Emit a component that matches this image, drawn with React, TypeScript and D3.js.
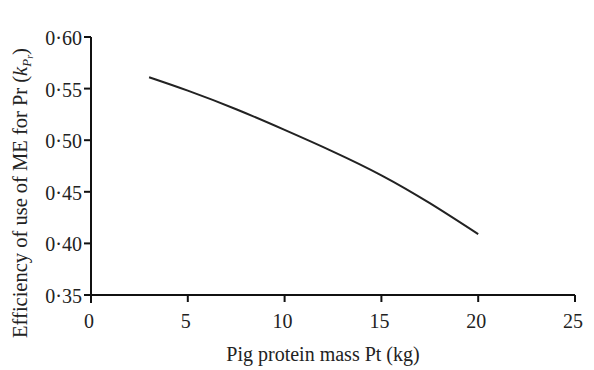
import React from "react";
import * as d3 from "d3";

const proteinMass = [3, 5, 7.5, 10, 12.5, 15, 17.5, 20];
const efficiency = [0.561, 0.548, 0.53, 0.51, 0.489, 0.466, 0.439, 0.409];
const xTicks = [0, 5, 10, 15, 20, 25];
const yTicks = [0.35, 0.4, 0.45, 0.5, 0.55, 0.6];

const W = 594;
const H = 370;
const FONT = "'Liberation Serif', 'DejaVu Serif', serif";

export default function App() {
  const x = d3.scaleLinear().domain([0, 25]).range([91, 575]);
  const y = d3.scaleLinear().domain([0.35, 0.6]).range([295, 37]);
  const pts = proteinMass.map((m, i) => [m, efficiency[i]] as [number, number]);
  const line = d3
    .line<[number, number]>()
    .x((d) => x(d[0]))
    .y((d) => y(d[1]))
    .curve(d3.curveNatural);
  const fmt = (v: number) => v.toFixed(2).replace(".", "\u00B7");
  return (
    <svg
      width={W}
      height={H}
      style={{ position: "absolute", left: 0, top: 0, background: "#fff" }}
      fontFamily={FONT}
    >
      <line x1={x(0)} x2={x(0)} y1={y(0.6)} y2={y(0.35) + 8} stroke="#111" strokeWidth={2} />
      <line x1={x(0) - 7} x2={x(25)} y1={y(0.35)} y2={y(0.35)} stroke="#111" strokeWidth={2} />
      {yTicks.map((t) => (
        <g key={"y" + t}>
          <line x1={x(0) - 7} x2={x(0)} y1={y(t)} y2={y(t)} stroke="#111" strokeWidth={2} />
          <text
            x={x(0) - 9}
            y={y(t) + 1}
            textAnchor="end"
            dominantBaseline="central"
            fontSize={20}
            fill="#222"
          >
            {fmt(t)}
          </text>
        </g>
      ))}
      {xTicks.map((t) => (
        <g key={"x" + t}>
          <line x1={x(t)} x2={x(t)} y1={y(0.35)} y2={y(0.35) + 7} stroke="#111" strokeWidth={2} />
          <text x={x(t) - 2} y={y(0.35) + 33} textAnchor="middle" fontSize={20} fill="#222">
            {t}
          </text>
        </g>
      ))}
      <path d={line(pts) || ""} fill="none" stroke="#222" strokeWidth={2} />
      <text x={323} y={361} textAnchor="middle" fontSize={20} fill="#222">
        Pig protein mass Pt (kg)
      </text>
      <text
        transform={`translate(27,${(y(0.35) + y(0.6)) / 2 + 27}) rotate(-90)`}
        textAnchor="middle"
        fontSize={20.5}
        fill="#222"
      >
        Efficiency of use of ME for Pr (
        <tspan fontStyle="italic">k</tspan>
        <tspan fontStyle="italic" fontSize={13} dy={4}>
          P
        </tspan>
        <tspan fontStyle="italic" fontSize={10} dy={2}>
          r
        </tspan>
        <tspan dy={-6}>)</tspan>
      </text>
    </svg>
  );
}
